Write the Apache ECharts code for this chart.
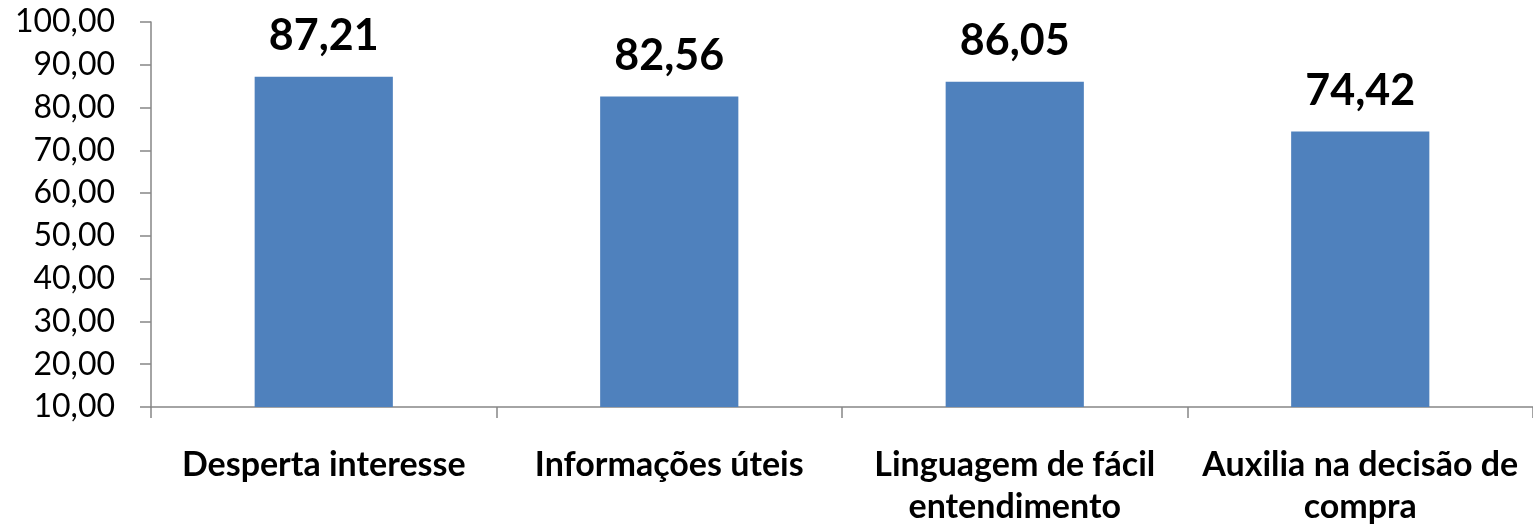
<!DOCTYPE html>
<html>
<head>
<meta charset="utf-8">
<script src="https://cdn.jsdelivr.net/npm/echarts@6/dist/echarts.min.js"></script>
<style>
  html, body { margin: 0; padding: 0; background: #fff; }
  #chart { width: 1533px; height: 529px; }
</style>
</head>
<body>
<div id="chart"></div>
<script>
const categories = ['Desperta interesse', 'Informações úteis', 'Linguagem de fácil\nentendimento', 'Auxilia na decisão de\ncompra']
const values = [87.21, 82.56, 86.05, 74.42]

const fmt = v => v.toFixed(2).replace('.', ',')

const myChart = echarts.init(document.getElementById('chart'))

const option = {
  animation: false,
  grid: { left: 151, right: -3, top: 22, bottom: 122, containLabel: false },
  xAxis: {
    type: 'category',
    data: categories,
    axisLine: { lineStyle: { color: '#868686', width: 1.5 } },
    axisTick: { show: true, length: 11, lineStyle: { color: '#868686', width: 1.5 } },
    axisLabel: {
      interval: 0,
      margin: 37,
      color: '#000',
      fontFamily: 'Lato',
      fontWeight: 'bold',
      fontSize: 34,
      lineHeight: 42
    }
  },
  yAxis: {
    type: 'value',
    min: 10,
    max: 100,
    interval: 10,
    splitLine: { show: false },
    axisLine: { show: true, lineStyle: { color: '#868686', width: 1.5 } },
    axisTick: { show: true, length: 11, lineStyle: { color: '#868686', width: 1.5 } },
    axisLabel: {
      margin: 36,
      color: '#000',
      fontFamily: 'Lato',
      fontSize: 32,
      formatter: v => fmt(v)
    }
  },
  series: [
    {
      type: 'bar',
      data: values,
      barWidth: '40%',
      itemStyle: { color: '#4F81BD' },
      label: {
        show: true,
        position: 'top',
        distance: 19,
        color: '#000',
        fontFamily: 'Lato',
        fontWeight: 'bold',
        fontSize: 43,
        formatter: p => fmt(p.value)
      }
    }
  ]
}

myChart.setOption(option)
</script>
</body>
</html>
